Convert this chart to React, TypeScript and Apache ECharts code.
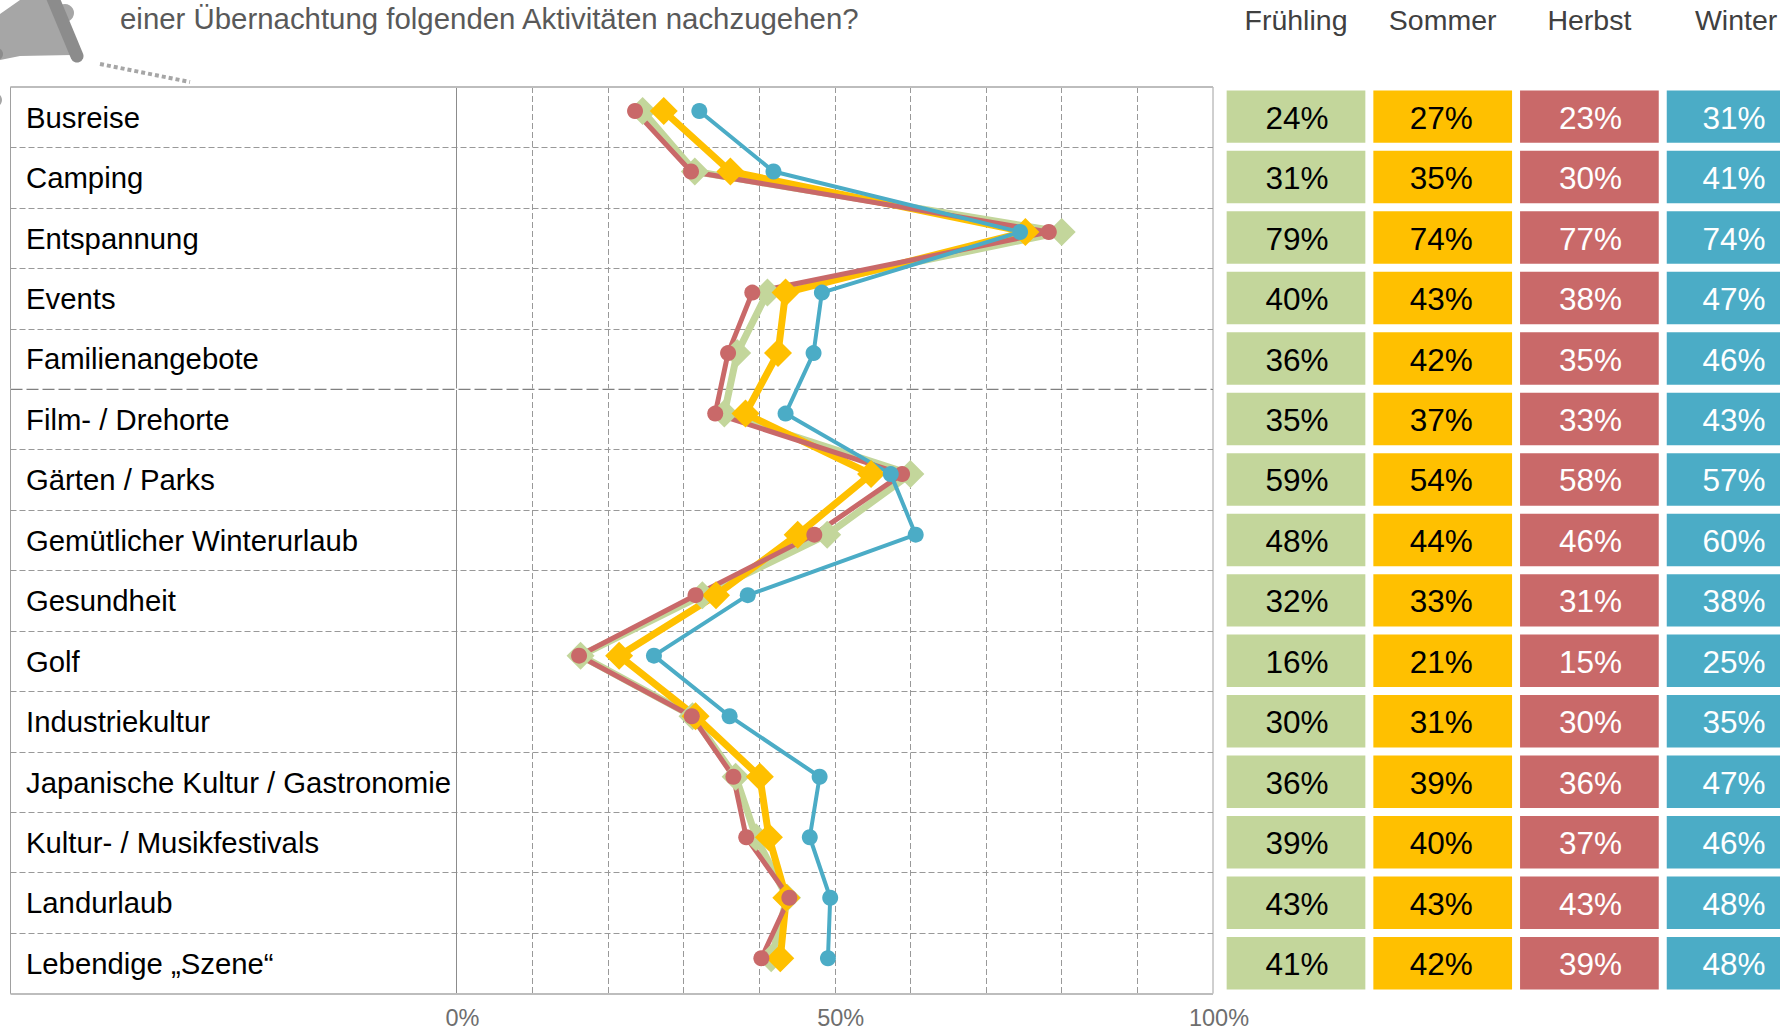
import React, { useEffect, useRef } from "react";
import * as echarts from "echarts";

const activities = [
  "Busreise", "Camping", "Entspannung", "Events", "Familienangebote", "Film- / Drehorte",
  "Gärten / Parks", "Gemütlicher Winterurlaub", "Gesundheit", "Golf", "Industriekultur",
  "Japanische Kultur / Gastronomie", "Kultur- / Musikfestivals", "Landurlaub", "Lebendige „Szene“",
];
const seasons = ["Frühling", "Sommer", "Herbst", "Winter"];
const xTickLabels = [0, 50, 100];
const titleText = "einer Übernachtung folgenden Aktivitäten nachzugehen?";

// Printed table values
const tableSpring = [24, 31, 79, 40, 36, 35, 59, 48, 32, 16, 30, 36, 39, 43, 41];
const tableSummer = [27, 35, 74, 43, 42, 37, 54, 44, 33, 21, 31, 39, 40, 43, 42];
const tableAutumn = [23, 30, 77, 38, 35, 33, 58, 46, 31, 15, 30, 36, 37, 43, 39];
const tableWinter = [31, 41, 74, 47, 46, 43, 57, 60, 38, 25, 35, 47, 46, 48, 48];

// Plotted positions
const lineSpring = [24.6, 31.5, 80.0, 41.1, 37.1, 35.4, 60.0, 49.0, 32.5, 16.4, 31.2, 36.9, 39.6, 43.7, 41.6];
const lineSummer = [27.4, 36.2, 75.2, 43.5, 42.5, 38.2, 54.8, 45.1, 34.3, 21.5, 31.6, 40.1, 41.3, 43.6, 42.8];
const lineAutumn = [23.6, 31.0, 78.3, 39.1, 35.9, 34.2, 58.9, 47.3, 31.6, 16.2, 31.1, 36.6, 38.3, 44.0, 40.3];
const lineWinter = [32.1, 41.9, 74.5, 48.3, 47.2, 43.5, 57.4, 60.7, 38.5, 26.1, 36.1, 48.0, 46.7, 49.4, 49.1];

const GREEN = "#C3D69B";
const YELLOW = "#FFC000";
const RED = "#C96969";
const BLUE = "#4BACC6";
const FONT = "Liberation Sans";

function lineSeries(name: string, data: number[], color: string, width: number, symbol: string, size: number) {
  return {
    type: "line", name, data, xAxisIndex: 2, yAxisIndex: 2, symbol, symbolSize: size, showSymbol: true,
    clip: false, silent: true, lineStyle: { color, width }, itemStyle: { color }, z: 5,
  };
}

function tableSeries(name: string, col: number, values: number[], color: string, textColor: string, textDx: number) {
  return {
    type: "custom", name, xAxisIndex: 3, yAxisIndex: 3, clip: false, silent: true,
    encode: { x: 0, y: 1 },
    data: values.map((v, row) => [col, row, v]),
    renderItem: (_: any, api: any) => {
      const c = api.coord([api.value(0), api.value(1)]);
      const s = api.size([1, 1]);
      const w = s[0] - 8;
      const h = s[1] - 8;
      return {
        type: "group",
        children: [
          { type: "rect", shape: { x: c[0] - w / 2, y: c[1] - h / 2, width: w, height: h }, style: { fill: color } },
          {
            type: "text", x: c[0] + textDx, y: c[1] + 1,
            style: {
              text: api.value(2) + "%", fill: textColor, font: `31.5px "${FONT}"`,
              textAlign: "center", textVerticalAlign: "middle",
            },
          },
        ],
      };
    },
  };
}

export default function App() {
  const ref = useRef<HTMLDivElement>(null);
  useEffect(() => {
    document.body.style.margin = "0";
    document.body.style.overflow = "hidden";
    const chart = echarts.init(ref.current!, null, { renderer: "svg" });
    const dash = { color: "#999", width: 1, type: [6, 3] as number[] };
    chart.setOption({
      animation: false,
      backgroundColor: "#fff",
      grid: [
        { left: 10.5, top: 87, width: 1202.5, height: 906.6, show: true, borderColor: "#a0a0a0", borderWidth: 1, outerBoundsMode: "none" },
        { left: 456.5, top: 87, width: 756.5, height: 906.6, outerBoundsMode: "none" },
        { left: 456.5, top: 80.74, width: 756.5, height: 907.8, outerBoundsMode: "none" },
        { left: 1222.65, top: 86.4, width: 586.8, height: 907, outerBoundsMode: "none" },
        { left: 462.5, top: 87, width: 756.5, height: 906.6, outerBoundsMode: "none" },
      ],
      xAxis: [
        { gridIndex: 0, type: "value", show: false, min: 0, max: 100 },
        {
          gridIndex: 1, type: "value", min: 0, max: 100, interval: 10,
          axisLine: { show: false }, axisTick: { show: false }, axisLabel: { show: false },
          splitLine: { show: true, showMinLine: false, showMaxLine: false, lineStyle: dash },
        },
        { gridIndex: 2, type: "value", show: false, min: 0, max: 100 },
        {
          gridIndex: 3, type: "category", position: "top", data: seasons,
          axisLine: { show: false }, axisTick: { show: false }, splitLine: { show: false },
          axisLabel: { margin: 52, color: "#404040", fontFamily: FONT, fontSize: 28.5 },
        },
        {
          gridIndex: 4, type: "value", min: 0, max: 100, interval: 10,
          axisLine: { show: false }, axisTick: { show: false }, splitLine: { show: false },
          axisLabel: {
            customValues: xTickLabels, formatter: "{value}%", margin: 12, color: "#6e6e6e",
            fontFamily: FONT, fontSize: 23.5,
          },
        },
      ],
      yAxis: [
        {
          gridIndex: 0, type: "category", inverse: true, data: activities,
          axisLine: { show: false }, axisTick: { show: false },
          splitLine: { show: true, interval: 0, lineStyle: dash },
          axisLabel: {
            inside: true, align: "left", margin: 15.5, interval: 0,
            color: "#000", fontFamily: FONT, fontSize: 29.3, padding: [3, 0, 0, 0],
          },
        },
        {
          gridIndex: 1, type: "category", inverse: true, data: activities,
          axisLine: { show: true, lineStyle: { color: "#8c8c8c", width: 1 } },
          axisTick: { show: false }, axisLabel: { show: false }, splitLine: { show: false },
        },
        { gridIndex: 2, type: "category", inverse: true, data: activities, show: false },
        { gridIndex: 3, type: "category", inverse: true, data: activities, show: false },
        { gridIndex: 4, type: "category", inverse: true, data: activities, show: false },
      ],
      graphic: [
        { type: "text", x: 120, y: 18, style: { text: titleText, fill: "#595959", font: `29.4px "${FONT}"`, textVerticalAlign: "middle" } },
        { type: "polygon", shape: { points: [[0, 14], [20, 0], [50, 0], [72, 55], [20, 56], [0, 60]] }, style: { fill: "#a6a6a6" } },
        { type: "circle", shape: { cx: 65, cy: 13, r: 9 }, style: { fill: "#a6a6a6" } },
        { type: "line", shape: { x1: 52, y1: -4, x2: 77, y2: 56 }, style: { stroke: "#8c8c8c", lineWidth: 13, lineCap: "round" } },
        { type: "circle", shape: { cx: -3, cy: 54, r: 6 }, style: { fill: "#8c8c8c" } },
        { type: "line", shape: { x1: 100, y1: 64, x2: 190, y2: 82 }, style: { stroke: "#a6a6a6", lineWidth: 4, lineDash: [4, 3] } },
        { type: "circle", shape: { cx: -5, cy: 100, r: 7 }, style: { fill: "#a6a6a6" } },
        { type: "line", z: 2, shape: { x1: 10.5, y1: 87, x2: 1213, y2: 87 }, style: { stroke: "#bdbdbd", lineWidth: 2 } },
        { type: "line", z: 2, shape: { x1: 10.5, y1: 994, x2: 1213, y2: 994 }, style: { stroke: "#bdbdbd", lineWidth: 2 } },
        { type: "line", z: 2, shape: { x1: 10.5, y1: 389.3, x2: 1213, y2: 389.3 }, style: { stroke: "#fff", lineWidth: 1.5 } },
        { type: "line", z: 2, shape: { x1: 10.5, y1: 389.3, x2: 1213, y2: 389.3 }, style: { stroke: "#808080", lineWidth: 1.2, lineDash: [12, 4] } },
      ],
      series: [
        tableSeries("Frühling Tabelle", 0, tableSpring, GREEN, "#000", 1),
        tableSeries("Sommer Tabelle", 1, tableSummer, YELLOW, "#000", -1.5),
        tableSeries("Herbst Tabelle", 2, tableAutumn, RED, "#fff", 1),
        tableSeries("Winter Tabelle", 3, tableWinter, BLUE, "#fff", -2),
        lineSeries("Frühling", lineSpring, GREEN, 7, "diamond", 28),
        lineSeries("Sommer", lineSummer, YELLOW, 7, "diamond", 28),
        lineSeries("Herbst", lineAutumn, RED, 5, "circle", 16),
        lineSeries("Winter", lineWinter, BLUE, 4, "circle", 16),
      ],
    });
    return () => chart.dispose();
  }, []);
  return <div ref={ref} style={{ width: 1780, height: 1027 }} />;
}
